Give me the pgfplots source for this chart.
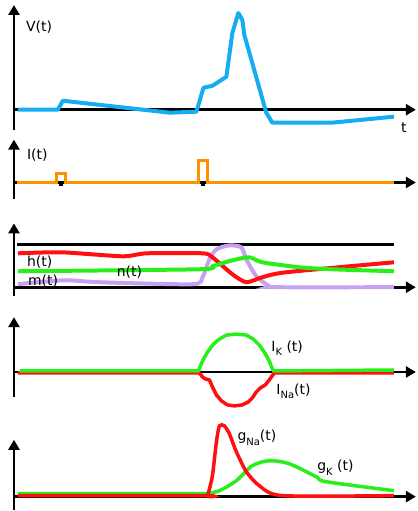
\documentclass[border=0pt]{standalone}
\usepackage{pgfplots}
\pgfplotsset{compat=1.18}
\usepackage{fontspec}
\setmainfont{DejaVu Sans}
\usetikzlibrary{arrows.meta}
\definecolor{vblue}{RGB}{22,172,240}
\definecolor{iorange}{RGB}{255,145,0}
\definecolor{cred}{RGB}{255,15,15}
\definecolor{cgreen}{RGB}{40,238,25}
\definecolor{cpurple}{RGB}{200,160,240}
\newcommand{\sub}[1]{\raisebox{-0.55ex}{\fontsize{10}{12}\selectfont #1}}
\tikzset{
  ax/.style={black, line width=2.8pt, -{Triangle[length=10pt,width=11pt]}},
  lab/.style={font=\fontsize{14}{16}\selectfont, anchor=west, inner sep=0pt},
}
\begin{document}
\begin{tikzpicture}
\begin{axis}[
  width=417pt, height=511pt, scale only axis,
  xmin=0, xmax=417, ymin=0, ymax=511, y dir=reverse,
  hide axis, clip=false,
]
\path (axis cs:0,0) (axis cs:417,511);
% ---------- panel 1: V(t)
\addplot[ax] coordinates {(14,130) (14,5)};
\addplot[ax] coordinates {(14,110) (417,110)};
\addplot[vblue, line width=4pt, line join=round] coordinates {
(18,110) (58,110) (63,101) (170,113) (197,112) (204,88) (213,86) (227,77)
(233,33) (239,13) (243,20) (245,35) (267,113) (273,123) (333,123) (395,117)};
\node[lab] at (axis cs:26,27) {V(t)};
\node[lab] at (axis cs:402,128) {t};
% ---------- panel 2: I(t)
\addplot[ax] coordinates {(14,200) (14,140)};
\addplot[ax] coordinates {(14,183) (417,183)};
\addplot[iorange, line width=3pt] coordinates {
(17,183) (57,183) (57,174) (66,174) (66,183) (199,183) (199,161) (208,161) (208,183) (395,183)};
\addplot[only marks, mark=square*, mark size=1.4pt, black] coordinates {(61,184) (203,184)};
\node[lab] at (axis cs:27,156) {I(t)};
% ---------- panel 3: m, h, n
\addplot[ax] coordinates {(14,297) (14,224)};
\addplot[ax] coordinates {(14,288) (417,288)};
\addplot[black, line width=2.8pt] coordinates {(17,245) (395,245)};
\addplot[cpurple, line width=4pt, smooth, tension=0.4] coordinates {
(18,285) (37,283) (67,281) (100,283) (193,285) (203,278) (210,260) (217,250)
(230,246) (242,248) (247,260) (257,277) (270,287) (277,288) (395,288)};
\addplot[cred, line width=4pt, smooth, tension=0.4] coordinates {
(18,254) (62,253) (123,257) (147,254) (203,254) (213,258) (233,275)
(247,283) (263,278) (287,273) (395,263)};
\addplot[cgreen, line width=4pt, smooth, tension=0.4] coordinates {
(18,272) (200,270) (213,267) (233,261) (250,258) (263,263) (300,268)
(333,270) (395,272)};
\node[lab] at (axis cs:27,263) {h(t)};
\node[lab] at (axis cs:28,282) {m(t)};
\node[lab] at (axis cs:117,273) {n(t)};
% ---------- panel 4: currents
\addplot[ax] coordinates {(14,398) (14,318)};
\addplot[ax] coordinates {(14,373) (417,373)};
\addplot[cred, line width=3.5pt, line join=round] coordinates {
(18,374) (200,374) (203,378) (206,380) (210,381) (213,388) (217,396) (222,402)
(228,406) (235,407) (243,406) (249,403) (253,399) (257,393) (261,389) (266,386)
(270,381) (275,374) (395,374)};
\addplot[cgreen, line width=3.5pt, line join=round] coordinates {
(20,372) (199,372) (203,362) (208,353) (214,345) (220,340) (227,336) (237,335)
(247,336) (254,340) (260,346) (265,353) (270,362) (274,372) (395,371)};
\addplot[black, line width=2.8pt] coordinates {(202,373) (273,373)};
\node[lab] at (axis cs:272,349) {I\sub{K} (t)};
\node[lab] at (axis cs:277,392) {I\sub{Na}(t)};
% ---------- panel 5: conductances
\addplot[ax] coordinates {(14,511) (14,441)};
\addplot[ax] coordinates {(14,498) (417,498)};
\addplot[cgreen, line width=3.5pt, smooth, tension=0.5] coordinates {
(18,495) (200,495) (207,495) (220,492) (237,482) (253,467) (270,462)
(290,465) (317,478) (327,483) (395,492)};
\addplot[cred, line width=3.5pt, smooth, tension=0.4] coordinates {
(18,497) (205,497) (208,497) (213,477) (217,443) (220,427) (225,427)
(230,435) (237,453) (247,473) (260,487) (283,497) (395,497)};
\node[lab] at (axis cs:238,439) {g\sub{Na}(t)};
\node[lab] at (axis cs:318,469) {g\sub{K} (t)};
\end{axis}
\end{tikzpicture}
\end{document}
